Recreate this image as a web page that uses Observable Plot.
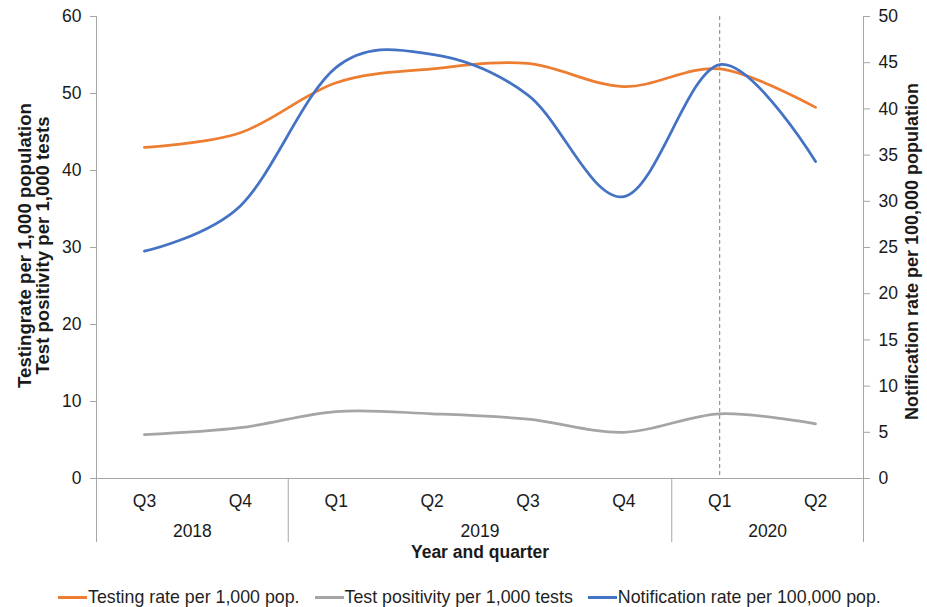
<!DOCTYPE html>
<html>
<head>
<meta charset="utf-8">
<script src="https://cdn.jsdelivr.net/npm/d3@7"></script>
<script src="https://cdn.jsdelivr.net/npm/@observablehq/plot@0.6"></script>
<style>
  html, body { margin: 0; padding: 0; background: #fff; }
  body { width: 927px; font-family: "Liberation Sans", Arial, sans-serif; }
  #legend { display: flex; justify-content: flex-start; align-items: center; height: 24px; font-size: 17.8px; color: #1f1f1f; padding-left: 58px; white-space: nowrap; }
  #legend .item { display: flex; align-items: center; margin-right: 15px; }
  #legend .sw { width: 29px; height: 3px; margin-right: 1px; }
</style>
</head>
<body>
<div id="chart"></div>
<div id="legend"></div>
<script>
// ---- data ----
const quarters = ["Q3", "Q4", "Q1", "Q2", "Q3", "Q4", "Q1", "Q2"];
const years = ["2018", "2018", "2019", "2019", "2019", "2019", "2020", "2020"];
const testingRate = [43.0, 44.9, 51.4, 53.2, 53.9, 50.9, 53.2, 48.2];
const testPositivity = [5.7, 6.6, 8.7, 8.4, 7.7, 6.0, 8.4, 7.1];
const notificationRate = [24.6, 29.5, 44.5, 45.9, 41.5, 30.5, 44.8, 34.3];
const leftTicks = [0, 10, 20, 30, 40, 50, 60];
const rightTicks = [0, 5, 10, 15, 20, 25, 30, 35, 40, 45, 50];
const markerQuarter = "2020 Q1";
const seriesNames = ["Testing rate per 1,000 pop.", "Test positivity per 1,000 tests", "Notification rate per 100,000 pop."];
const seriesColors = ["#ED7D31", "#A5A5A5", "#4472C4"];

// ---- derived ----
const leftMax = 60, rightMax = 50, k = leftMax / rightMax;
const idx = quarters.map((_, i) => i);
const keys = quarters.map((q, i) => years[i] + " " + q);
const markerIdx = keys.indexOf(markerQuarter);
const yearList = Array.from(new Set(years));
const yearCenters = yearList.map(y => d3.mean(idx.filter(i => years[i] === y)));
const separators = [-0.5, ...yearList.map(y => d3.max(idx.filter(i => years[i] === y)) + 0.5)];
const rows = (vals, s, scale) => vals.map((v, i) => ({i, v: v * scale, s}));
const data = [
  ...rows(testingRate, seriesNames[0], 1),
  ...rows(testPositivity, seriesNames[1], 1),
  ...rows(notificationRate, seriesNames[2], k)
];
const xDomain = [-0.5, quarters.length - 0.5];

const W = 927, H = 585;
const gray = "#A6A6A6", ink = "#1a1a1a";
const fs = 17.5;

const chart = Plot.plot({
  width: W, height: H,
  marginLeft: 96, marginRight: 64, marginTop: 16, marginBottom: H - 478,
  style: {fontFamily: "'Liberation Sans', Arial, sans-serif", fontSize: fs + "px", color: ink, background: "#fff", overflow: "visible"},
  x: {type: "linear", domain: xDomain, axis: null},
  y: {domain: [0, leftMax], axis: null},
  marks: [
    Plot.ruleX([markerIdx], {stroke: "#7f7f7f", strokeWidth: 1, strokeDasharray: "4,3"}),
    Plot.ruleX(xDomain, {stroke: gray, strokeWidth: 1}),
    Plot.ruleY([0], {stroke: gray, strokeWidth: 1}),
    // left axis
    Plot.axisY(leftTicks, {anchor: "left", tickSize: 6, tickPadding: 9, stroke: gray, fill: ink, fontSize: fs, label: null}),
    // right axis
    Plot.axisY(rightTicks.map(v => v * k), {anchor: "right", tickSize: 6, tickPadding: 9, stroke: gray, fill: ink, fontSize: fs, tickFormat: d => Math.round(d / k), label: null}),
    // x separators
    Plot.axisX(separators, {tickSize: 64, stroke: gray, tickFormat: () => "", label: null}),
    // quarter labels
    Plot.axisX(idx, {tickSize: 0, tickPadding: 16, fill: ink, fontSize: fs, tickFormat: i => quarters[i], label: null}),
    // year labels
    Plot.axisX(yearCenters, {tickSize: 0, tickPadding: 46, fill: ink, fontSize: fs, tickFormat: (d, j) => yearList[j], label: null}),
    // axis titles
    Plot.text(["Year and quarter"], {frameAnchor: "bottom", dy: 67, lineAnchor: "top", fontWeight: "bold", fontSize: 17.5, fill: ink}),
    Plot.text(["Testingrate per 1,000 population\nTest positivity per 1,000 tests"], {frameAnchor: "left", dx: -62, dy: -2, rotate: -90, textAnchor: "middle", lineAnchor: "middle", lineHeight: 0.95, fontWeight: "bold", fontSize: 18.6, fill: ink}),
    Plot.text(["Notification rate per 100,000 population"], {frameAnchor: "right", dx: 49, dy: 4, rotate: -90, textAnchor: "middle", lineAnchor: "middle", fontWeight: "bold", fontSize: 18, fill: ink}),
    // series
    Plot.line(data, {x: "i", y: "v", z: "s", stroke: "s", strokeWidth: 2.75, curve: "cardinal"})
  ],
  color: {domain: seriesNames, range: seriesColors}
});
document.getElementById("chart").appendChild(chart);

const legend = document.getElementById("legend");
seriesNames.forEach((n, i) => {
  const item = document.createElement("div");
  item.className = "item";
  item.innerHTML = `<span class="sw" style="background:${seriesColors[i]}"></span><span>${n}</span>`;
  legend.appendChild(item);
});
</script>
</body>
</html>
